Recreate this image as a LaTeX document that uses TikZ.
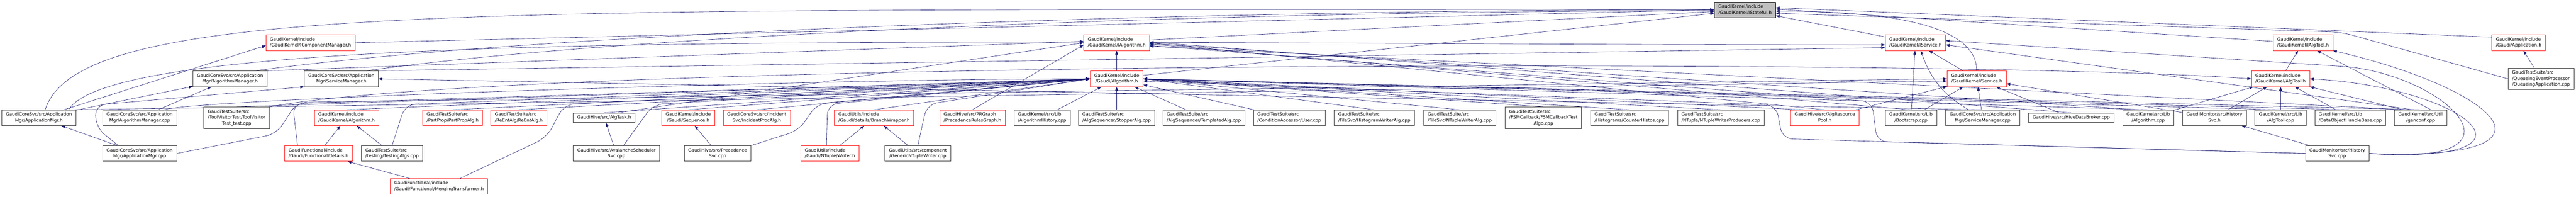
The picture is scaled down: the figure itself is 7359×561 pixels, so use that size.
\documentclass[tikz,border=0pt]{standalone}
\usepackage{fontspec}
\setmainfont{DejaVu Sans}
\usetikzlibrary{positioning,arrows.meta}

\definecolor{edgeblue}{HTML}{191970}
\definecolor{boxred}{HTML}{FF2020}
\definecolor{boxgray}{HTML}{404040}
\definecolor{rootgray}{HTML}{BFBFBF}

\pgfdeclarelayer{bg}
\pgfsetlayers{bg,main}

% file labels: first lines left, last line centred
\newcommand{\onel}[1]{\begin{tabular}{@{}c@{}}#1\end{tabular}}
\newcommand{\twol}[2]{\begin{tabular}{@{}l@{}}#1\\\multicolumn{1}{@{}c@{}}{#2}\end{tabular}}
\newcommand{\threel}[3]{\begin{tabular}{@{}l@{}}#1\\#2\\\multicolumn{1}{@{}c@{}}{#3}\end{tabular}}

\begin{document}
\begin{tikzpicture}[x=1pt,y=-1pt]
\tikzstyle{every node}=[font=\fontsize{12.8}{17}\selectfont, inner xsep=11.4pt, inner ysep=5.2pt]
\tikzstyle{file}=[draw=boxgray, line width=1pt, fill=white]
\tikzstyle{trunc}=[draw=boxred, line width=1pt, fill=white]
\tikzstyle{root}=[draw=black, line width=1pt, fill=rootgray]
\tikzstyle{inc}=[draw=edgeblue, line width=0.9pt, -{Triangle[length=11pt,width=8pt]}]
\tikzstyle{bent}=[inc, rounded corners=30pt]

\useasboundingbox (0,0) rectangle (7359,561);

% root
\node[root] (stateful) at (4985,28) {\twol{GaudiKernel/include}{/GaudiKernel/IStateful.h}};

% row 3
\node[file] (appmgrh) at (111,336) {\twol{GaudiCoreSvc/src/Application}{Mgr/ApplicationMgr.h}};
\node[file,right of=appmgrh,node distance=288pt] (algmgrcpp) {\twol{GaudiCoreSvc/src/Application}{Mgr/AlgorithmManager.cpp}};
\node[file,right of=algmgrcpp,node distance=277pt] (toolvisitor) {\threel{GaudiTestSuite/src}{/ToolVisitorTest/ToolVisitor}{Test\_test.cpp}};
\node[trunc,right of=toolvisitor,node distance=314pt] (kalgh) {\twol{GaudiKernel/include}{/GaudiKernel/Algorithm.h}};
\node[trunc,right of=kalgh,node distance=303pt] (partprop) {\twol{GaudiTestSuite/src}{/PartProp/PartPropAlg.h}};
\node[trunc,right of=partprop,node distance=189pt] (reent) {\twol{GaudiTestSuite/src}{/ReEntAlg/ReEntAlg.h}};
\node[file,right of=reent,node distance=244pt] (algtask) {\onel{GaudiHive/src/AlgTask.h}};
\node[trunc,right of=algtask,node distance=240pt] (sequence) {\twol{GaudiKernel/include}{/Gaudi/Sequence.h}};
\node[trunc,right of=sequence,node distance=196pt] (incident) {\twol{GaudiCoreSvc/src/Incident}{Svc/IncidentProcAlg.h}};
\node[trunc,right of=incident,node distance=335pt] (branch) {\twol{GaudiUtils/include}{/Gaudi/details/BranchWrapper.h}};
\node[trunc,right of=branch,node distance=281pt] (prgraph) {\twol{GaudiHive/src/PRGraph}{/PrecedenceRulesGraph.h}};
\node[file,right of=prgraph,node distance=199pt] (alghist) {\twol{GaudiKernel/src/Lib}{/AlgorithmHistory.cpp}};
\node[file,right of=alghist,node distance=213pt] (stopper) {\twol{GaudiTestSuite/src}{/AlgSequencer/StopperAlg.cpp}};
\node[file,right of=stopper,node distance=249pt] (templated) {\twol{GaudiTestSuite/src}{/AlgSequencer/TemplatedAlg.cpp}};
\node[file,right of=templated,node distance=244pt] (user) {\twol{GaudiTestSuite/src}{/ConditionAccessor/User.cpp}};
\node[file,right of=user,node distance=243pt] (histwriter) {\twol{GaudiTestSuite/src}{/FileSvc/HistogramWriterAlg.cpp}};
\node[file,right of=histwriter,node distance=244pt] (ntuplewriter) {\twol{GaudiTestSuite/src}{/FileSvc/NTupleWriterAlg.cpp}};
\node[file,right of=ntuplewriter,node distance=239pt] (fsm) {\threel{GaudiTestSuite/src}{/FSMCallback/FSMCallbackTest}{Algo.cpp}};
\node[file,right of=fsm,node distance=246pt] (counterhistos) {\twol{GaudiTestSuite/src}{/Histograms/CounterHistos.cpp}};
\node[file,right of=counterhistos,node distance=261pt] (ntupleprod) {\twol{GaudiTestSuite/src}{/NTuple/NTupleWriterProducers.cpp}};
\node[trunc,right of=ntupleprod,node distance=297pt] (algrespool) {\twol{GaudiHive/src/AlgResource}{Pool.h}};
\node[file,right of=algrespool,node distance=246pt] (bootstrap) {\twol{GaudiKernel/src/Lib}{/Bootstrap.cpp}};
\node[file,right of=bootstrap,node distance=205pt] (svcmgrcpp) {\twol{GaudiCoreSvc/src/Application}{Mgr/ServiceManager.cpp}};
\node[file,right of=svcmgrcpp,node distance=253pt] (hivedb) {\onel{GaudiHive/src/HiveDataBroker.cpp}};
\node[file,right of=hivedb,node distance=220pt] (algorithmcpp) {\twol{GaudiKernel/src/Lib}{/Algorithm.cpp}};
\node[file,right of=algorithmcpp,node distance=189pt] (histsvch) {\twol{GaudiMonitor/src/History}{Svc.h}};
\node[file,right of=histsvch,node distance=189pt] (algtoolcpp) {\twol{GaudiKernel/src/Lib}{/AlgTool.cpp}};
\node[file,right of=algtoolcpp,node distance=199pt] (dohb) {\twol{GaudiKernel/src/Lib}{/DataObjectHandleBase.cpp}};
\node[file,right of=dohb,node distance=201pt] (genconf) {\twol{GaudiKernel/src/Util}{/genconf.cpp}};

% row 2
\node[file] (algmgrh) at (657,225) {\twol{GaudiCoreSvc/src/Application}{Mgr/AlgorithmManager.h}};
\node[file,right of=algmgrh,node distance=318pt] (svcmgrh) {\twol{GaudiCoreSvc/src/Application}{Mgr/ServiceManager.h}};
\node[trunc,above of=stopper,node distance=111pt] (gaudialg) {\twol{GaudiKernel/include}{/Gaudi/Algorithm.h}};
\node[trunc] (service) at (5647,225) {\twol{GaudiKernel/include}{/GaudiKernel/Service.h}};
\node[trunc,above of=algtoolcpp,node distance=111pt] (algtool) {\twol{GaudiKernel/include}{/GaudiKernel/AlgTool.h}};
\node[file] (queueapp) at (7259,225) {\threel{GaudiTestSuite/src}{/QueueingEventProcessor}{/QueueingApplication.cpp}};

% row 1
\node[trunc] (icompmgr) at (887,122) {\twol{GaudiKernel/include}{/GaudiKernel/IComponentManager.h}};
\node[trunc,above of=gaudialg,node distance=103pt] (ialgorithm) {\twol{GaudiKernel/include}{/GaudiKernel/IAlgorithm.h}};
\node[trunc] (iservice) at (5472,122) {\twol{GaudiKernel/include}{/GaudiKernel/IService.h}};
\node[trunc] (ialgtool) at (6579,122) {\twol{GaudiKernel/include}{/GaudiKernel/IAlgTool.h}};
\node[trunc] (application) at (7195,122) {\twol{GaudiKernel/include}{/Gaudi/Application.h}};

% row 4
\node[file] (appmgrcpp) at (399,438) {\twol{GaudiCoreSvc/src/Application}{Mgr/ApplicationMgr.cpp}};
\node[trunc,right of=appmgrcpp,node distance=511pt] (details) {\twol{GaudiFunctional/include}{/Gaudi/Functional/details.h}};
\node[file,right of=details,node distance=210pt] (testingalgs) {\twol{GaudiTestSuite/src}{/testing/TestingAlgs.cpp}};
\node[file,right of=testingalgs,node distance=641pt] (avalanche) {\twol{GaudiHive/src/AvalancheScheduler}{Svc.cpp}};
\node[file,right of=avalanche,node distance=289pt] (precsvc) {\twol{GaudiHive/src/Precedence}{Svc.cpp}};
\node[trunc,right of=precsvc,node distance=321pt] (writer) {\twol{GaudiUtils/include}{/Gaudi/NTuple/Writer.h}};
\node[file,right of=writer,node distance=251pt] (genericnt) {\twol{GaudiUtils/src/component}{/GenericNTupleWriter.cpp}};
\node[file,right of=genericnt,node distance=4055pt] (histsvccpp) {\twol{GaudiMonitor/src/History}{Svc.cpp}};

% row 5
\node[trunc] (merging) at (1254,532) {\twol{GaudiFunctional/include}{/Gaudi/Functional/MergingTransformer.h}};

% bends between the boxes
\coordinate (gam1a) at (275,365);
\coordinate (gam1) at (272,300);
\coordinate (gam2) at (790,382);
\coordinate (gam3) at (848,292);
\coordinate (gde) at (836,296);
\coordinate (gta) at (1158,298);
\coordinate (gme1) at (1562,392);
\coordinate (gme2) at (1612,298);
\coordinate (gav) at (1866,298);
\coordinate (gps1) at (2282,372);
\coordinate (gps2) at (2334,296);
\coordinate (gwr) at (2364,298);
\coordinate (ggn) at (2648,298);
\coordinate (ghs1) at (5092,396);
\coordinate (ghs2) at (5074,300);
\coordinate (ghs3) at (5362,404);
\coordinate (ghs4) at (5348,290);
\coordinate (gqa) at (6690,92);
\coordinate (ghl) at (6700,190);

\begin{pgfonlayer}{bg}
% into IStateful.h
\draw[inc] ([xshift=18pt]appmgrh.north) .. controls +(100,-313) and +(-3500,0) .. (stateful.west);
\draw[inc] (icompmgr.east) -- (stateful.west);
\draw[inc] ([xshift=70pt]algmgrh.north) .. controls +(800,-110) and +(-1500,0) .. (stateful.west);
\draw[inc] ([xshift=70pt]svcmgrh.north) .. controls +(700,-100) and +(-1500,0) .. ([yshift=-3pt]stateful.west);
\draw[inc] ([yshift=8pt]ialgorithm.east) -- ([yshift=-5pt]stateful.west);
\draw[inc] ([yshift=10pt]gaudialg.east) -- ([yshift=-10pt]stateful.west);
\draw[inc] (iservice) -- (stateful);
\draw[inc] (service.north) .. controls +(0,-150) and +(250,0) .. ([yshift=-4pt]stateful.east);
\draw[inc] ([yshift=4pt]ialgtool.west) -- ([yshift=2pt]stateful.east);
\draw[inc] ([yshift=16pt]application.west) -- ([yshift=6pt]stateful.east);
\draw[bent] (queueapp.west) -- (gqa) -- ([yshift=-10pt]stateful.east);

% ApplicationMgr and friends
\draw[inc] (appmgrcpp) -- (appmgrh);
\draw[inc] (appmgrh) -- (algmgrh);
\draw[inc] (algmgrcpp) -- (algmgrh);
\draw[inc] (appmgrh) -- ([yshift=-8pt]icompmgr.west);
\draw[bent] ([xshift=-61pt]appmgrcpp.north) -- (gam1a) -- (gam1) -- (svcmgrh.south west);
\draw[inc] (svcmgrcpp.north) -- (svcmgrh.east);
\draw[bent] (appmgrcpp.east) -- (gam2) -- (gam3) -- (service.west);
\draw[inc] ([xshift=100pt]appmgrh.north) -- ([yshift=-6pt]service.west);
\draw[inc] ([xshift=85pt]appmgrh.north) .. controls +(150,-250) and +(-2500,0) .. ([yshift=-6pt]iservice.west);
\draw[inc] ([xshift=80pt]svcmgrh.north) -- ([yshift=-14pt]iservice.west);
\draw[inc] ([xshift=100pt]algmgrh.north) -- ([yshift=4pt]ialgorithm.west);

% short ones below the red headers
\draw[inc] (merging) -- (details);
\draw[inc] (details) -- (kalgh);
\draw[inc] (testingalgs) -- (kalgh);
\draw[inc] (avalanche) -- (algtask);
\draw[inc] (precsvc) -- (sequence);
\draw[inc] (writer) -- (branch);
\draw[inc] (genericnt) -- (branch);

% into Gaudi/Algorithm.h from the left
\foreach \s in {toolvisitor,kalgh,partprop,reent,algtask,sequence,incident,branch}
  \draw[inc] (\s.north) -- (gaudialg.west);
\draw[inc] ([xshift=70pt]algmgrcpp.north) .. controls +(80,-30) and +(-800,0) .. (gaudialg.west);
\draw[bent] ([xshift=-60pt]details.north) -- (gde) -- (gaudialg.west);
\draw[bent] (testingalgs.north) -- (gta) -- (gaudialg.west);
\draw[bent] ([xshift=60pt]merging.north) -- (gme1) -- (gme2) -- (gaudialg.west);
\draw[bent] ([xshift=20pt]avalanche.north) -- (gav) -- (gaudialg.west);
\draw[bent] (precsvc.north east) -- (gps1) -- (gps2) -- (gaudialg.west);
\draw[bent] ([xshift=-10pt]writer.north) -- (gwr) -- (gaudialg.west);
\draw[bent] (genericnt.north) -- (ggn) -- (gaudialg.west);

% into IAlgorithm.h from the left
\draw[inc] ([xshift=40pt]algtask.north) -- (ialgorithm.west);
\draw[inc] (prgraph.north) -- ([yshift=-6pt]ialgorithm.west);

% straight below Gaudi/Algorithm.h
\draw[inc] (gaudialg) -- (ialgorithm);
\draw[inc] (stopper) -- (gaudialg);
\draw[inc] (alghist) -- (gaudialg);
\draw[inc] (templated) -- (gaudialg);
\draw[inc] (user) -- (gaudialg);

% into Gaudi/Algorithm.h from the right
\foreach \s in {histwriter,ntuplewriter,fsm,counterhistos,ntupleprod,algorithmcpp,algtoolcpp,dohb,genconf}
  \draw[inc] (\s.north) -- (gaudialg.east);
\draw[inc] ([xshift=-60pt]algrespool.north) -- (gaudialg.east);
\draw[bent] (histsvccpp.west) -- (ghs1) -- (ghs2) -- ([yshift=-6pt]gaudialg.east);

% into IAlgorithm.h from the right
\draw[bent] (histsvccpp.west) -- (ghs3) -- (ghs4) -- ([yshift=-8pt]ialgorithm.east);
\draw[inc] (bootstrap.north) -- ([yshift=-4pt]ialgorithm.east);
\draw[inc] (algrespool.north) -- (ialgorithm.east);
\draw[inc] ([xshift=-30pt]algorithmcpp.north) -- ([yshift=-2pt]ialgorithm.east);
\draw[inc] (hivedb.north) -- ([yshift=2pt]ialgorithm.east);
\draw[inc] ([xshift=-40pt]genconf.north) -- ([yshift=-10pt]ialgorithm.east);

% IService.h
\draw[inc] (bootstrap) -- (iservice);
\draw[inc] ([xshift=-40pt]svcmgrcpp.north) .. controls +(-74,-43) and +(29,80) .. ([xshift=15pt]iservice.south);
\draw[inc] (service) -- (iservice);
\draw[inc] ([xshift=-20pt]genconf.north) -- ([yshift=-6pt]iservice.east);
\draw[inc] (histsvccpp.east) .. controls +(490,40) and +(290,25) .. (ghl) -- ([yshift=6pt]iservice.east);

% Service.h
\draw[inc] (algrespool) -- (service);
\draw[inc] (bootstrap) -- (service);
\draw[inc] (svcmgrcpp) -- (service);
\draw[inc] (hivedb) -- (service);
\draw[inc] (histsvch) -- (service);

% AlgTool.h and IAlgTool.h
\foreach \s in {algorithmcpp,histsvch,algtoolcpp,dohb}
  \draw[inc] (\s) -- (algtool);
\draw[inc] ([xshift=-50pt]genconf.north) -- (algtool.south east);
\draw[inc] (histsvccpp.east) .. controls +(540,32) and +(450,25) .. (algtool.east);
\draw[inc] (toolvisitor.north east) .. controls +(728,-135) and +(-831,-60) .. (algtool.west);
\draw[inc] (algtool) -- (ialgtool);
\draw[inc] ([xshift=30pt]genconf.north) -- ([xshift=40pt]ialgtool.south);
\draw[inc] (histsvccpp.east) .. controls +(610,22) and +(455,105) .. (ialgtool.south east);
\draw[inc] (histsvccpp) -- (histsvch);

% Application.h
\draw[inc] (queueapp) -- (application);
\end{pgfonlayer}
\end{tikzpicture}
\end{document}
